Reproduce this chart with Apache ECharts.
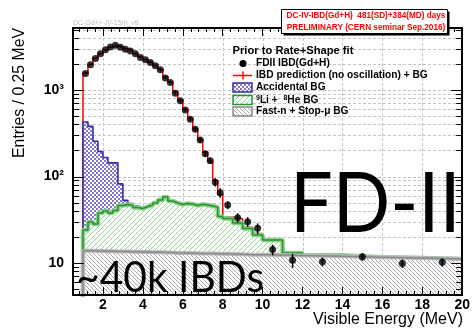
<!DOCTYPE html>
<html><head><meta charset="utf-8">
<script src="https://cdn.jsdelivr.net/npm/echarts@6/dist/echarts.min.js"></script>
<style>html,body{margin:0;padding:0;background:#fff}#c{width:473px;height:332px}</style>
</head><body><div id="c"></div>
<script>
// ---------------- data ----------------
const binEdges = [1,1.25,1.5,1.75,2,2.25,2.5,2.75,3,3.25,3.5,3.75,4,4.25,4.5,4.75,5,5.25,5.5,5.75,6,6.25,6.5,6.75,7,7.25,7.5,7.75,8,8.5,9,9.5,10,11,12,14,16,18,20];
const dataValues = [1552,1962,2313,2628,2923,3141,3288,3126,2963,2824,2628,2375,2234,2078,1905,1713,1376,1222,916,752,587,459,351,264,183,152,86,65,46.8,33.4,30.0,25.2,14.3,10.8,10.35,11.8,9.9,10.2];
const dataErrors = [39,44,48,51,54,56,57,56,54,53,51,49,47,46,44,41,37,35,30,27,24,21,19,16,13.5,12.3,9.3,8.1,4.8,4.1,3.9,3.5,2.0,2.0,1.2,1.2,1.1,1.1];
const predValues = [1575,1990,2330,2640,2900,3120,3250,3170,3000,2850,2650,2420,2250,2090,1920,1730,1420,1240,960,760,600,470,355,268,192,150,90,62,34,32.5,26,22,18.6,13.1,12.1,11.7,11.4,11.1];
const fastnBG = [13.9,13.9,13.8,13.8,13.7,13.7,13.6,13.6,13.6,13.5,13.5,13.4,13.4,13.3,13.3,13.3,13.2,13.2,13.1,13.1,13.1,13.0,13.0,12.9,12.9,12.9,12.8,12.8,12.7,12.6,12.5,12.5,12.4,12.2,12.0,11.7,11.4,11.1];
const liheBG = [10.2,15.9,14.4,24.0,26.2,24.1,26.9,32.7,33.9,32.8,30.3,29.3,31.6,33.5,36.1,40.2,44.7,38.9,36.3,34.4,35.8,35.0,33.3,34.8,33.9,32.7,31.5,21.7,20.0,16.4,12.5,8.6,6.1,0.85,0.3,0,0,0];
const accBG = [403,350,228,157,126,106,104,36,5.5,2.5,2.0,1.0,0.8,0.7,0.6,0.5,0.5,0.4,0.4,0.4,0.4,0.3,0.3,0.3,0.3,0.3,0.3,0.3,0.2,0.2,0.2,0.2,0.1,0.1,0.1,0,0,0];
const yTickValues = [10,100,1000];
const yTickLabels = ['10','10\u00b2','10\u00b3'];
const yMinorValues = [5,6,7,8,9,20,30,40,50,60,70,80,90,200,300,400,500,600,700,800,900,2000,3000,4000,5000];
const xGridValues = [2,4,6,8,10,12,14,16,18];

// ---------------- derived ----------------
const xMin = 0.5, xMax = 20, yMin = 4.27, yMax = 5210;
const FONT = '"Liberation Sans", Arial, Helvetica, sans-serif';
const liTop = fastnBG.map((v,i)=>v+liheBG[i]);
const accTop = liTop.map((v,i)=>v+accBG[i]);
const centers = dataValues.map((v,i)=>(binEdges[i]+binEdges[i+1])/2);
function stepData(vals){
  const out=[[binEdges[0], 1]];
  for(let i=0;i<vals.length;i++) out.push([binEdges[i], vals[i]]);
  out.push([binEdges[vals.length], vals[vals.length-1]]);
  return out;
}
function makePattern(kind){
  const c=document.createElement('canvas');
  const n = kind==='acc'?4:(kind==='li'?5:4);
  c.width=n;c.height=n;
  const ctx=c.getContext('2d');
  ctx.fillStyle='#fff';ctx.fillRect(0,0,n,n);
  if(kind==='acc'){ctx.fillStyle='#8476d6';ctx.fillRect(0,0,2,2);ctx.fillRect(2,2,2,2);}
  else if(kind==='li'){ctx.fillStyle='#95d495';for(let i=0;i<n;i++)ctx.fillRect(i,n-1-i,1,1);}
  else {ctx.fillStyle='#a9a9a9';for(let i=0;i<n;i++)ctx.fillRect(i,i,1,1);}
  return {image:c, repeat:'repeat'};
}
const patAcc=makePattern('acc'), patLi=makePattern('li'), patFast=makePattern('fast');

const gridItems = [];
yTickValues.concat(yMinorValues).forEach(v=>gridItems.push([xMin, v, 0]));
xGridValues.forEach(v=>gridItems.push([v, 10, 1]));
const yTickItems = yTickValues.concat(yMinorValues).map(v=>[xMin, v, yTickValues.indexOf(v)>=0?1:0]);
const errItems = centers.map((c,i)=>[c, dataValues[i], dataErrors[i]]);
const points = centers.map((c,i)=>[c, dataValues[i]]);

const GRIDC = '#c4c4c4';
function gridRender(params, api){
  const cs = params.coordSys;
  if(api.value(2)===0){
    const p = api.coord([xMin, api.value(1)]); const y=Math.round(p[1])+0.5;
    return {type:'line', shape:{x1:cs.x, y1:y, x2:cs.x+cs.width, y2:y}, style:{stroke:GRIDC, lineWidth:1, lineDash:[3,2]}};
  }
  const p = api.coord([api.value(0), 10]); const x=Math.round(p[0])+0.5;
  return {type:'line', shape:{x1:x, y1:cs.y, x2:x, y2:cs.y+cs.height}, style:{stroke:GRIDC, lineWidth:1, lineDash:[3,2]}};
}
function yTickRender(params, api){
  const cs = params.coordSys;
  const p = api.coord([xMin, api.value(1)]); const y=Math.round(p[1])+0.5;
  const len = api.value(2)===1 ? 11 : 6;
  return {type:'group', children:[
    {type:'line', shape:{x1:cs.x, y1:y, x2:cs.x+len, y2:y}, style:{stroke:'#000', lineWidth:1}},
    {type:'line', shape:{x1:cs.x+cs.width-len, y1:y, x2:cs.x+cs.width, y2:y}, style:{stroke:'#000', lineWidth:1}}
  ]};
}
function errRender(params, api){
  const x=api.value(0), v=api.value(1), e=api.value(2);
  const p1=api.coord([x, v-e]), p2=api.coord([x, v+e]);
  return {type:'line', shape:{x1:p1[0], y1:p1[1], x2:p2[0], y2:p2[1]}, style:{stroke:'#000', lineWidth:1.5}};
}

const lineBase = {type:'line', step:'end', symbol:'none', silent:true, animation:false, clip:true, xAxisIndex:0, yAxisIndex:0};
const axisLineStyle = {show:true, onZero:false, lineStyle:{color:'#000', width:2}};

const chart = echarts.init(document.getElementById('c'), null, {renderer:'canvas', width:473, height:332});
chart.setOption({
  animation:false,
  backgroundColor:'#fff',
  grid:{left:73, right:9, top:28, bottom:37, containLabel:false},
  xAxis:[
    {type:'value', min:xMin, max:xMax, splitNumber:10, position:'bottom', z:20,
     axisLine:axisLineStyle, axisTick:{show:true, inside:true, length:8, lineStyle:{color:'#000', width:1}},
     minorTick:{show:true, splitNumber:5, length:4, lineStyle:{color:'#000', width:1}},
     splitLine:{show:false},
     axisLabel:{showMinLabel:false, fontFamily:FONT, fontWeight:'bold', fontSize:14, color:'#000', margin:3}},
    {type:'value', min:xMin, max:xMax, splitNumber:10, position:'top', z:20,
     axisLine:axisLineStyle, axisTick:{show:true, inside:true, length:8, lineStyle:{color:'#000', width:1}},
     minorTick:{show:true, splitNumber:5, length:4, lineStyle:{color:'#000', width:1}},
     splitLine:{show:false}, axisLabel:{show:false}}
  ],
  yAxis:[
    {type:'log', logBase:10, min:yMin, max:yMax, position:'left', z:20,
     axisLine:axisLineStyle, axisTick:{show:false}, minorTick:{show:false}, splitLine:{show:false},
     axisLabel:{showMinLabel:false, showMaxLabel:false, fontFamily:FONT, fontWeight:'bold', fontSize:14, color:'#000', margin:9,
       formatter:function(v){const e=Math.round(Math.log10(v)); const k=yTickValues.indexOf(Math.pow(10,e)); return (k>=0 && Math.abs(Math.log10(v)-e)<1e-6)?yTickLabels[k]:'';}}},
    {type:'value', position:'right', min:0, max:1, z:20,
     axisLine:axisLineStyle, axisTick:{show:false}, splitLine:{show:false}, axisLabel:{show:false}}
  ],
  series:[
    {type:'custom', z:1, silent:true, renderItem:gridRender, data:gridItems, xAxisIndex:0, yAxisIndex:0},
    Object.assign({}, lineBase, {z:2, data:stepData(predValues), lineStyle:{color:'#ff0000', width:1.5}}),
    Object.assign({}, lineBase, {z:3, data:stepData(accTop), lineStyle:{color:'#3d2b9e', width:1.6}, areaStyle:{color:patAcc, opacity:1, origin:'start'}}),
    Object.assign({}, lineBase, {z:4, data:stepData(liTop), lineStyle:{opacity:0}, areaStyle:{color:patLi, opacity:1, origin:'start'}}),
    Object.assign({}, lineBase, {z:5, data:stepData(liTop), lineStyle:{color:'#8fce8f', width:4.5}}),
    Object.assign({}, lineBase, {z:6, data:stepData(liTop), lineStyle:{color:'#22962a', width:1.5}}),
    Object.assign({}, lineBase, {z:7, data:stepData(fastnBG), lineStyle:{opacity:0}, areaStyle:{color:patFast, opacity:1, origin:'start'}}),
    Object.assign({}, lineBase, {z:8, data:stepData(fastnBG), lineStyle:{color:'#b8b8b8', width:4}}),
    Object.assign({}, lineBase, {z:9, data:stepData(fastnBG), lineStyle:{color:'#8a8a8a', width:1.5}}),
    {type:'custom', z:10, silent:true, renderItem:errRender, data:errItems, xAxisIndex:0, yAxisIndex:0},
    {type:'scatter', z:11, silent:true, symbol:'circle', symbolSize:7, itemStyle:{color:'#000'}, data:points, xAxisIndex:0, yAxisIndex:0},
    {type:'custom', z:12, silent:true, renderItem:yTickRender, data:yTickItems, xAxisIndex:0, yAxisIndex:0}
  ],
  graphic:[
    // small gray tag
    {type:'text', z:100, x:73, y:23.5, style:{text:'DC-Gd++-IV-15m_v8', font:'7px '+FONT, fill:'#bdbdbd', align:'left', verticalAlign:'middle'}},
    // red title box
    {type:'rect', z:100, shape:{x:283.5, y:11.5, width:166, height:24}, style:{fill:'#000'}},
    {type:'rect', z:101, shape:{x:281.5, y:9.5, width:166, height:24}, style:{fill:'#fff', stroke:'#000', lineWidth:1}},
    {type:'text', z:102, x:366, y:16, style:{text:'DC-IV-IBD(Gd+H)  481(SD)+384(MD) days', font:'bold 8.2px '+FONT, fill:'#ff0000', align:'center', verticalAlign:'middle'}},
    {type:'text', z:102, x:366, y:28, style:{text:'PRELIMINARY (CERN seminar Sep.2016)', font:'bold 8.2px '+FONT, fill:'#ff0000', align:'center', verticalAlign:'middle'}},
    // legend
    {type:'text', z:100, x:232.5, y:51, style:{text:'Prior to Rate+Shape fit', font:'bold 11.2px '+FONT, fill:'#000', align:'left', verticalAlign:'middle'}},
    {type:'circle', z:100, shape:{cx:243, cy:63.5, r:3.5}, style:{fill:'#000'}},
    {type:'text', z:100, x:256, y:63.5, style:{text:'FDII IBD(Gd+H)', font:'bold 10.2px '+FONT, fill:'#000', align:'left', verticalAlign:'middle'}},
    {type:'line', z:100, shape:{x1:233, y1:75.5, x2:252, y2:75.5}, style:{stroke:'#ff0000', lineWidth:1.5}},
    {type:'line', z:100, shape:{x1:243, y1:71.5, x2:243, y2:79.5}, style:{stroke:'#ff0000', lineWidth:1.5}},
    {type:'text', z:100, x:256, y:75.5, style:{text:'IBD prediction (no oscillation) + BG', font:'bold 10.2px '+FONT, fill:'#000', align:'left', verticalAlign:'middle'}},
    {type:'rect', z:100, shape:{x:233, y:83, width:19, height:9}, style:{fill:patAcc, stroke:'#3d2b9e', lineWidth:1.5}},
    {type:'text', z:100, x:256, y:87.5, style:{text:'Accidental BG', font:'bold 10.2px '+FONT, fill:'#000', align:'left', verticalAlign:'middle'}},
    {type:'rect', z:100, shape:{x:233, y:95.5, width:19, height:9}, style:{fill:patLi, stroke:'#22962a', lineWidth:1.5}},
    {type:'text', z:100, x:256, y:100.5, style:{text:'{s|9}Li +  {s|8}He BG', font:'bold 10.2px '+FONT, fill:'#000', align:'left', verticalAlign:'middle',
      rich:{s:{font:'bold 7px '+FONT, fill:'#000', verticalAlign:'top', lineHeight:12}}}},
    {type:'rect', z:100, shape:{x:233, y:107, width:19, height:9}, style:{fill:patFast, stroke:'#8a8a8a', lineWidth:1.5}},
    {type:'text', z:100, x:256, y:111.5, style:{text:'Fast-n + Stop-\u03bc BG', font:'bold 10.2px '+FONT, fill:'#000', align:'left', verticalAlign:'middle'}},
    // axis titles
    {type:'text', z:100, x:463, y:320, style:{text:'Visible Energy (MeV)', font:'16px '+FONT, fill:'#000', align:'right', verticalAlign:'middle'}},
    {type:'text', z:100, x:19.5, y:28, rotation:Math.PI/2, style:{text:'Entries / 0.25 MeV', font:'15.8px '+FONT, fill:'#000', align:'right', verticalAlign:'middle'}},
    // overlay annotations
    {type:'text', z:110, x:290, y:205, scaleX:0.9, style:{text:'FD-II', font:'84px Lato, "Open Sans", sans-serif', fill:'#000', align:'left', verticalAlign:'middle'}},
    {type:'text', z:110, x:76, y:278, scaleX:0.97, style:{text:'~40k IBDs', font:'42px Lato, "Open Sans", sans-serif', fill:'#000', align:'left', verticalAlign:'middle'}}
  ]
});
</script>
</body></html>
